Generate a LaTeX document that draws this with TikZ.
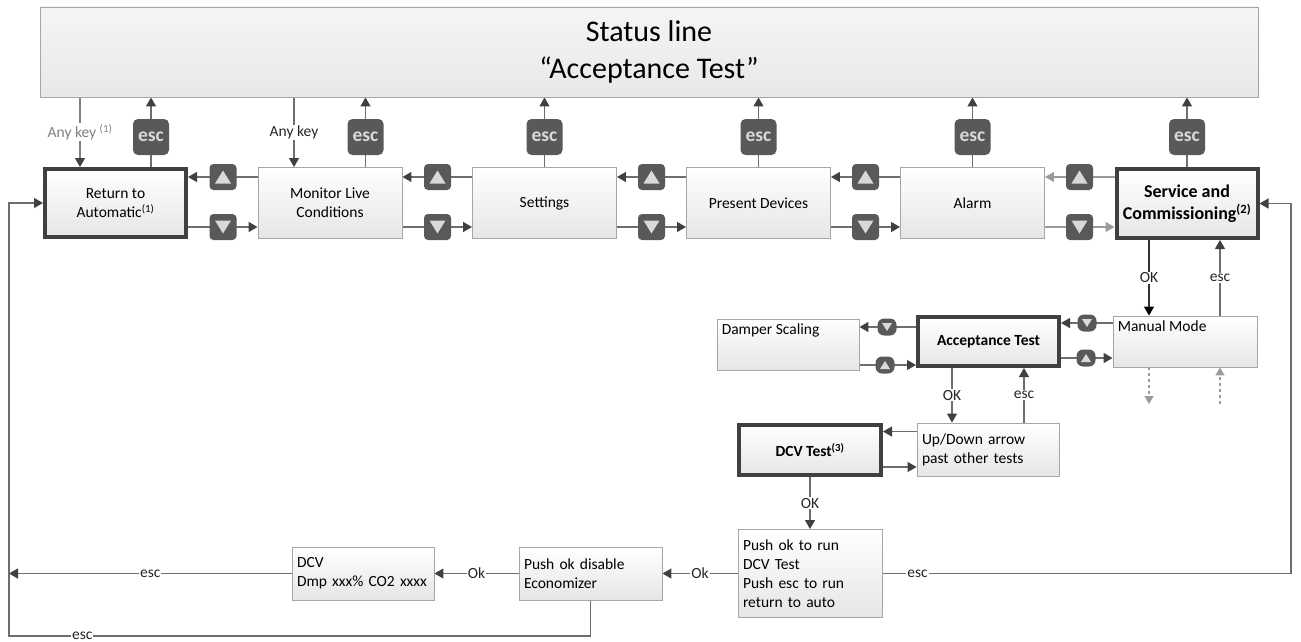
\documentclass[tikz,border=0pt]{standalone}
\usepackage{fontspec}
\setmainfont{Carlito}
\usetikzlibrary{arrows.meta,backgrounds}
\definecolor{btn}{HTML}{595959}
\definecolor{btnlt}{HTML}{D9D9D9}
\definecolor{thickc}{HTML}{404040}
\definecolor{thinc}{HTML}{A6A6A6}
\definecolor{lnc}{HTML}{6E6E6E}
\definecolor{headc}{HTML}{404040}
\definecolor{ltc}{HTML}{9A9A9A}
\definecolor{lbgray}{HTML}{7F7F7F}
\tikzset{
  boxfont/.style={font=\fontsize{15.5}{19}\selectfont},
  box/.style={draw=thinc, line width=0.9pt, top color=white, bottom color=black!10, boxfont, align=center, inner sep=2pt},
  tbox/.style={draw=thickc, line width=4pt, top color=white, bottom color=black!10, boxfont, align=center, inner sep=2pt},
  lbox/.style={box, align=left, inner xsep=5pt},
  statusbox/.style={draw=thinc, line width=0.9pt, top color=black!4, bottom color=black!9, font=\fontsize{30}{37}\selectfont, align=center},
  escbtn/.style={fill=btn, rounded corners=5pt, minimum width=36pt, minimum height=36pt, inner sep=0pt, text=btnlt, font=\fontsize{19.5}{20}\selectfont\bfseries},
  upbtn/.style={fill=btn, rounded corners=4pt, minimum width=27pt, minimum height=26pt, inner sep=0pt,
    path picture={\fill[btnlt, sharp corners] ([yshift=6.5pt]path picture bounding box.center) -- ++(8pt,-13pt) -- ++(-16pt,0pt) -- cycle;}},
  dnbtn/.style={fill=btn, rounded corners=4pt, minimum width=27pt, minimum height=26pt, inner sep=0pt,
    path picture={\fill[btnlt, sharp corners] ([yshift=-6.5pt]path picture bounding box.center) -- ++(8pt,13pt) -- ++(-16pt,0pt) -- cycle;}},
  supbtn/.style={fill=btn, rounded corners=6.5pt, minimum width=19pt, minimum height=17pt, inner sep=0pt,
    path picture={\fill[btnlt, sharp corners] ([yshift=4pt]path picture bounding box.center) -- ++(5pt,-8pt) -- ++(-10pt,0pt) -- cycle;}},
  sdnbtn/.style={fill=btn, rounded corners=6.5pt, minimum width=19pt, minimum height=17pt, inner sep=0pt,
    path picture={\fill[btnlt, sharp corners] ([yshift=-4pt]path picture bounding box.center) -- ++(5pt,8pt) -- ++(-10pt,0pt) -- cycle;}},
  lbl/.style={fill=white, inner sep=1pt, font=\fontsize{15.5}{18}\selectfont, text=black!85},
  ln/.style={draw=lnc, line width=1.2pt},
  arr/.style={ln, -{Triangle[length=9pt,width=10pt,color=headc]}},
  arrk/.style={draw=black!80, line width=1.2pt, -{Triangle[length=9pt,width=10pt,color=black]}},
  arrl/.style={draw=ltc, line width=1.2pt, -{Triangle[length=9pt,width=10pt,color=ltc]}},
  arrg/.style={draw=lbgray, line width=1.2pt, -{Triangle[length=9pt,width=10pt,color=headc]}},
  darr/.style={draw=ltc, line width=1.1pt, dashed, -{Triangle[length=8pt,width=9pt,color=ltc]}},
}
\begin{document}
\begin{tikzpicture}[x=1pt, y=-1pt]
\useasboundingbox (0,0) rectangle (1301,642);
% status line
\node[statusbox, minimum width=1218pt, minimum height=90pt] (status) at (649,52) {Status line\\“Acceptance Test”};
% top row
\node[tbox, minimum width=141pt, minimum height=68pt] (ret) at (115.5,203) {Return to\\Automatic\textsuperscript{(1)}};
\node[box, minimum width=144pt, minimum height=71pt] (mon) at (330,203) {Monitor Live\\Conditions};
\node[box, minimum width=144pt, minimum height=71pt] (sett) at (544.5,203) {Settings};
\node[box, minimum width=144pt, minimum height=71pt] (pres) at (758.5,203) {Present Devices};
\node[box, minimum width=144pt, minimum height=71pt] (alarm) at (972.5,203) {Alarm};
\node[tbox, minimum width=141pt, minimum height=69pt, font=\fontsize{18}{22.5}\selectfont\bfseries] (serv) at (1187,203.5) {Service and\\Commissioning\textsuperscript{(2)}};
% esc buttons
\node[escbtn] (e1) at (151,137) {esc};
\node[escbtn] (e2) at (365.5,137) {esc};
\node[escbtn] (e3) at (544.5,137) {esc};
\node[escbtn] (e4) at (758.5,137) {esc};
\node[escbtn] (e5) at (972.5,137) {esc};
\node[escbtn] (e6) at (1187,137) {esc};
% up / down buttons
\node[upbtn] (u1) at (223,177) {};
\node[upbtn] (u2) at (437.5,177) {};
\node[upbtn] (u3) at (651.5,177) {};
\node[upbtn] (u4) at (865.5,177) {};
\node[upbtn] (u5) at (1079.5,177) {};
\node[dnbtn] (d1) at (223,227) {};
\node[dnbtn] (d2) at (437.5,227) {};
\node[dnbtn] (d3) at (651.5,227) {};
\node[dnbtn] (d4) at (865.5,227) {};
\node[dnbtn] (d5) at (1079.5,227) {};
% second level
\node[box, minimum width=144pt, minimum height=51pt,
  label={[boxfont, anchor=north west, inner sep=0pt, xshift=5pt, yshift=-5pt]north west:Manual Mode}] (man) at (1185,341.5) {};
\node[tbox, minimum width=141pt, minimum height=49pt, font=\fontsize{15.5}{19}\selectfont\bfseries] (acc) at (988.5,341.5) {Acceptance Test};
\node[box, minimum width=142pt, minimum height=51pt,
  label={[boxfont, anchor=north west, inner sep=0pt, xshift=5pt, yshift=-5pt]north west:Damper Scaling}] (damp) at (788,344.5) {};
\node[sdnbtn] (sd1) at (1087,323) {};
\node[supbtn] (su1) at (1086,358) {};
\node[sdnbtn] (sd2) at (887,327) {};
\node[supbtn] (su2) at (885,365) {};
\node[lbox, text width=132pt, minimum height=53pt] (ud) at (988,449.5) {Up/Down arrow\\past other tests};
\node[tbox, minimum width=142pt, minimum height=50pt, font=\fontsize{15.5}{19}\selectfont\bfseries] (dcv) at (810,450) {DCV Test\textsuperscript{(3)}};
\node[lbox, text width=134pt, minimum height=88pt] (push) at (810,573.5) {Push ok to run\\DCV Test\\Push esc to run\\return to auto};
\node[lbox, text width=133pt, minimum height=53pt] (econ) at (590.5,573.5) {Push ok disable\\Economizer};
\node[lbox, text width=132pt, minimum height=53pt] (dcvb) at (363,573.5) {DCV\\Dmp xxx\% CO2 xxxx};
% coordinates
\coordinate (xak1) at (80,0);
\coordinate (xak2) at (294,0);
\coordinate (xok1) at (1149,0);
\coordinate (xesc1) at (1220,0);
\coordinate (xok2) at (952,0);
\coordinate (xesc2) at (1024,0);
\coordinate (dA) at (1149,404);
\coordinate (dB) at (1220,404);
\coordinate (cR) at (1291,573.5);
\coordinate (cL) at (9,573.5);
\coordinate (cB) at (9,636);
\begin{pgfonlayer}{background}
% esc connectors
\foreach \b/\e in {ret/e1, mon/e2, sett/e3, pres/e4, alarm/e5, serv/e6}{
  \draw[ln] (\b.north -| \e) -- (\e.south);
  \draw[arr] (\e.north) -- (\e |- status.south);
}
% any key
\draw[arrg] (xak1 |- status.south) -- node[lbl, text=lbgray]{Any key \textsuperscript{(1)}} (xak1 |- ret.north);
\draw[arr] (xak2 |- status.south) -- node[lbl]{Any key} (xak2 |- mon.north);
% up/down
\foreach \l/\r/\u/\d in {ret/mon/u1/d1, mon/sett/u2/d2, sett/pres/u3/d3, pres/alarm/u4/d4}{
  \draw[arr] (\r.west |- \u) -- (\l.east |- \u);
  \draw[arr] (\l.east |- \d) -- (\r.west |- \d);
}
\draw[arrl] (serv.west |- u5) -- (alarm.east |- u5);
\draw[arrl] (alarm.east |- d5) -- (serv.west |- d5);
% service <-> manual
\draw[arrk] (serv.south -| xok1) -- node[lbl]{OK} (man.north -| xok1);
\draw[arr] (man.north -| xesc1) -- node[lbl]{esc} (serv.south -| xesc1);
\draw[darr] (man.south -| dA) -- (dA);
\draw[darr] (dB) -- (man.south -| dB);
% manual <-> acceptance <-> damper
\draw[arr] (man.west |- sd1) -- (acc.east |- sd1);
\draw[arr] (acc.east |- su1) -- (man.west |- su1);
\draw[arr] (acc.west |- sd2) -- (damp.east |- sd2);
\draw[arr] (damp.east |- su2) -- (acc.west |- su2);
% acceptance <-> up/down
\draw[arr] (acc.south -| xok2) -- node[lbl]{OK} (ud.north -| xok2);
\draw[arr] (ud.north -| xesc2) -- node[lbl]{esc} (acc.south -| xesc2);
% up/down <-> dcv test
\draw[arr] ([yshift=-9pt]ud.north west) -- ([yshift=-9pt]ud.north west -| dcv.east);
\draw[arr] ([yshift=10pt]dcv.south east) -- ([yshift=10pt]dcv.south east -| ud.west);
% dcv test -> push
\draw[arr] (dcv.south) -- node[lbl]{OK} (push.north);
% push -> service loop
\draw[arr] (push.east) -- node[lbl, pos=0.086]{esc} (cR) |- (serv.east);
% bottom chain
\draw[arr] (push.west) -- node[lbl]{Ok} (econ.east);
\draw[arr] (econ.west) -- node[lbl]{Ok} (dcvb.east);
\draw[arr] (dcvb.west) -- node[lbl]{esc} (cL);
\draw[arr] (econ.south) -- (econ.south |- cB) -- node[lbl, pos=0.874]{esc} (cB) -- (cB |- ret.west) -- (ret.west);
\end{pgfonlayer}
\end{tikzpicture}
\end{document}
